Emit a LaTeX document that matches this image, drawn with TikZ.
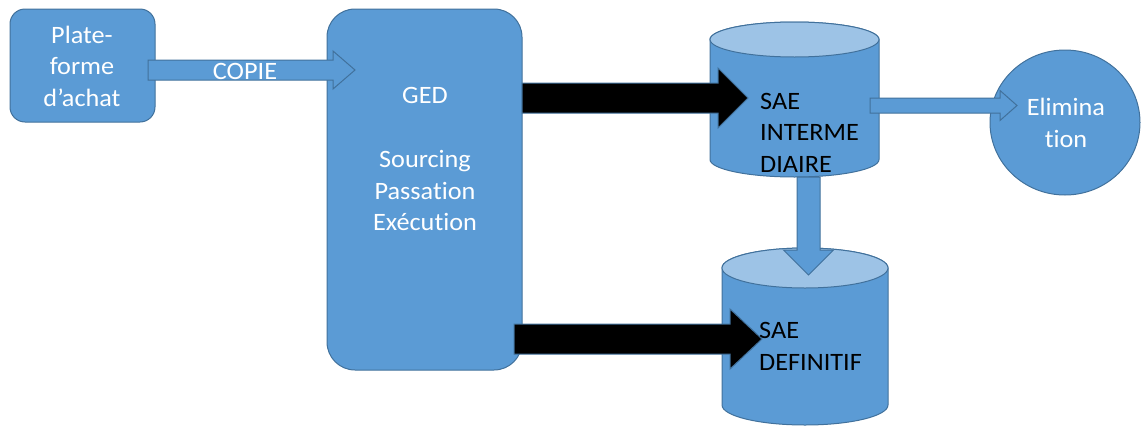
\documentclass[tikz,border=0pt]{standalone}
\usepackage{fontspec}
\setmainfont{Carlito}[Ligatures={NoCommon}, FakeStretch=1.05]
\usetikzlibrary{calc,shapes.geometric}
\definecolor{boxfill}{HTML}{5B9BD5}
\definecolor{boxline}{HTML}{41719C}
\definecolor{cyltop}{HTML}{9DC3E6}
\tikzset{
  base/.style={draw=boxline, line width=1pt, fill=boxfill, inner sep=0pt, outer sep=0pt},
  txt/.style={font=\fontsize{25}{31.5}\selectfont, inner sep=0pt, align=center},
  wtxt/.style={txt, text=white},
  btxt/.style={txt, text=black, align=left},
  bluearrow/.style={draw=boxline, line width=1pt, fill=boxfill},
  blackarrow/.style={draw=boxline, line width=1pt, fill=black},
}
% horizontal block arrow: style, start, tip, shaft half-width, head half-width, head length
\newcommand\harrow[6]{\draw[#1] let \p1=(#2), \p2=(#3) in
  (\x1,\y1+#4) -- (\x2-#6,\y1+#4) -- (\x2-#6,\y1+#5) -- (\x2,\y1) --
  (\x2-#6,\y1-#5) -- (\x2-#6,\y1-#4) -- (\x1,\y1-#4) -- cycle;}
% downward block arrow
\newcommand\varrow[6]{\draw[#1] let \p1=(#2), \p2=(#3) in
  (\x1-#4,\y1) -- (\x1-#4,\y2+#6) -- (\x1-#5,\y2+#6) -- (\x1,\y2) --
  (\x1+#5,\y2+#6) -- (\x1+#4,\y2+#6) -- (\x1+#4,\y1) -- cycle;}
% cylinder: cx, top centre y, bottom centre y, rx, ry
\newcommand\mycyl[5]{%
  \draw[base] (#1-#4,#2) -- (#1-#4,#3)
    arc[start angle=180, end angle=360, x radius=#4, y radius=#5]
    -- (#1+#4,#2)
    arc[start angle=0, end angle=180, x radius=#4, y radius=#5] -- cycle;
  \draw[base, fill=cyltop] (#1,#2) ellipse[x radius=#4, y radius=#5];}
\begin{document}
\begin{tikzpicture}[x=1pt,y=1pt]
\useasboundingbox (0,0) rectangle (1141,-426);
% boxes
\node[base, rounded corners=15pt, minimum width=145pt, minimum height=113pt] (pf) at (82.5,-65.5) {};
\node[base, rounded corners=28pt, minimum width=195pt, minimum height=361pt] (ged) at (424.5,-189.5) {};
% cylinders
\mycyl{794.5}{-39.5}{-159.5}{84.5}{17.5}
\mycyl{805}{-268}{-405}{83}{20}
% circle
\node[base, ellipse, minimum width=150pt, minimum height=145pt] (elim) at (1065,-122.5) {};
% arrow end points
\coordinate (a1s) at (148,-70);
\coordinate (a1e) at (355,-70);
\coordinate (b1s) at (ged.east |- 0,-98);
\coordinate (b1e) at (748,-98);
\coordinate (b2s) at (514,-339);
\coordinate (b2e) at (762,-339);
\coordinate (ds) at (808.5,-177);
\coordinate (de) at (808.5,-275);
\coordinate (es) at (870,-105.5);
\coordinate (ee) at (1017,-105.5);
% arrows
\harrow{bluearrow}{a1s}{a1e}{10pt}{19pt}{22pt}
\harrow{blackarrow}{b1s}{b1e}{15pt}{30pt}{30pt}
\harrow{blackarrow}{b2s}{b2e}{15pt}{30pt}{32pt}
\varrow{bluearrow}{ds}{de}{11.5pt}{25pt}{25pt}
\harrow{bluearrow}{es}{ee}{7.5pt}{15pt}{17pt}
% texts
\node[wtxt] (pft) at (82,-66) {Plate-\\forme\\d’achat};
\node[wtxt] (copie) at (245,-71) {COPIE};
\node[wtxt] (gedt) at (425,-159) {GED\\[33pt]Sourcing\\Passation\\Exécution};
\node[btxt, anchor=west] (sae1) at (760,-132.5) {SAE\\INTERME\\DIAIRE};
\node[btxt, anchor=west] (sae2) at (759,-346.5) {SAE\\DEFINITIF};
\node[wtxt] (elimt) at (1066,-123) {Elimina\\tion};
\end{tikzpicture}
\end{document}
